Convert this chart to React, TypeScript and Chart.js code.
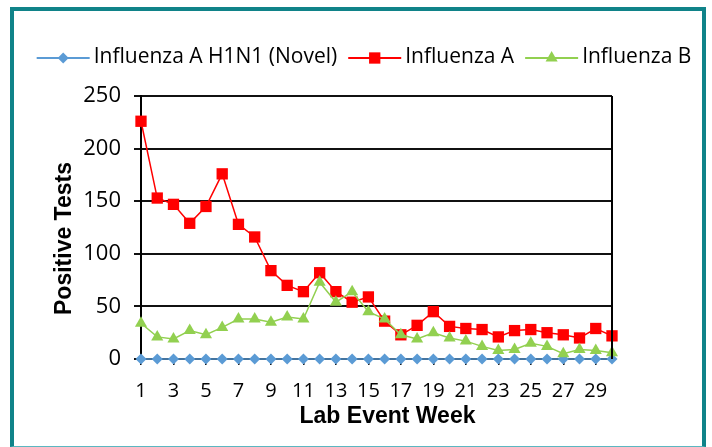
import React, { useEffect, useRef } from 'react';
import { Chart, registerables } from 'chart.js';

Chart.register(...registerables);

const weeks = ['1','2','3','4','5','6','7','8','9','10','11','12','13','14','15','16','17','18','19','20','21','22','23','24','25','26','27','28','29','30'];
const h1n1 = [0,0,0,0,0,0,0,0,0,0,0,0,0,0,0,0,0,0,0,0,0,0,0,0,0,0,0,0,0,0];
const fluA = [226,153,147,129,145,176,128,116,84,70,64,82,64,54,59,36,23,32,45,31,29,28,21,27,28,25,23,20,29,22];
const fluB = [34,21,19,27,23,30,38,38,35,40,38,73,54,64,45,38,23,19,25,20,17,12,8,9,15,12,5,9,8,6];
const seriesNames = ['Influenza A H1N1 (Novel)', 'Influenza A', 'Influenza B'];
const seriesColors = ['#5b9bd5', '#ff0000', '#92d050'];
const seriesStyles = ['rectRot', 'rect', 'triangle'];
const seriesRadius = [5.5, 8, 7];
const yMin = 0;
const yMax = 250;
const yStep = 50;
const xTitle = 'Lab Event Week';
const yTitle = 'Positive Tests';

function drawMarker(ctx: CanvasRenderingContext2D, style: string, x: number, y: number, r: number, color: string) {
  ctx.save();
  ctx.fillStyle = color;
  ctx.beginPath();
  if (style === 'rectRot') {
    ctx.moveTo(x, y - r);
    ctx.lineTo(x + r, y);
    ctx.lineTo(x, y + r);
    ctx.lineTo(x - r, y);
  } else if (style === 'rect') {
    const s = Math.SQRT1_2 * r;
    ctx.rect(x - s, y - s, 2 * s, 2 * s);
  } else {
    for (let k = 0; k < 3; k++) {
      const a = (k * 2 * Math.PI) / 3;
      const px = x + Math.sin(a) * r;
      const py = y - Math.cos(a) * r;
      if (k === 0) ctx.moveTo(px, py); else ctx.lineTo(px, py);
    }
  }
  ctx.closePath();
  ctx.fill();
  ctx.restore();
}

const decorPlugin = {
  id: 'decor',
  afterDraw(chart: any) {
    const ctx: CanvasRenderingContext2D = chart.ctx;
    const area = chart.chartArea;
    ctx.save();
    // right border of plot area
    ctx.strokeStyle = '#000';
    ctx.lineWidth = 2;
    ctx.beginPath();
    ctx.moveTo(area.right, area.top);
    ctx.lineTo(area.right, area.bottom);
    ctx.stroke();

    // axis titles
    ctx.fillStyle = '#000';
    ctx.font = 'bold 23px "Liberation Sans", Arial, sans-serif';
    ctx.textAlign = 'center';
    ctx.textBaseline = 'middle';
    ctx.fillText(xTitle, (area.left + area.right) / 2 + 11, 417);
    ctx.save();
    ctx.translate(65, (area.top + area.bottom) / 2 + 11);
    ctx.rotate(-Math.PI / 2);
    ctx.fillText(yTitle, 0, 0);
    ctx.restore();

    // legend
    ctx.font = '21px "Open Sans", sans-serif';
    ctx.textAlign = 'left';
    ctx.textBaseline = 'middle';
    const lineLen = 53;
    const gapText = 4;
    const gapItem = 11;
    const widths = seriesNames.map((n) => ctx.measureText(n).width);
    const total = widths.reduce((a, b) => a + b, 0) + 3 * (lineLen + gapText) + 2 * gapItem;
    let x = 364 - total / 2;
    const ly = 58;
    seriesNames.forEach((name, i) => {
      ctx.strokeStyle = seriesColors[i];
      ctx.lineWidth = 2;
      ctx.beginPath();
      ctx.moveTo(x, ly);
      ctx.lineTo(x + lineLen, ly);
      ctx.stroke();
      drawMarker(ctx, seriesStyles[i], x + lineLen / 2, ly, seriesRadius[i], seriesColors[i]);
      ctx.fillStyle = '#000';
      ctx.fillText(name, x + lineLen + gapText, ly - 1);
      x += lineLen + gapText + widths[i] + gapItem;
    });
    ctx.restore();
  },
};

export default function App() {
  const canvasRef = useRef<HTMLCanvasElement | null>(null);

  useEffect(() => {
    document.body.style.margin = '0';
    const canvas = canvasRef.current;
    if (!canvas) return;
    const datasets = [h1n1, fluA, fluB].map((data, i) => ({
      label: seriesNames[i],
      data,
      borderColor: seriesColors[i],
      backgroundColor: seriesColors[i],
      borderWidth: 1.5,
      pointStyle: seriesStyles[i] as any,
      pointRadius: seriesRadius[i],
      pointBorderWidth: 0,
      pointBackgroundColor: seriesColors[i],
      pointBorderColor: seriesColors[i],
      tension: 0,
      clip: false as any,
      order: 2 - i,
    }));
    const chart = new Chart(canvas, {
      type: 'line',
      data: { labels: weeks, datasets },
      options: {
        animation: false,
        responsive: false,
        devicePixelRatio: 1,
        layout: { padding: { left: 0, right: 100, top: 96, bottom: 0 } },
        plugins: { legend: { display: false }, tooltip: { enabled: false } },
        scales: {
          x: {
            type: 'category',
            offset: false,
            afterFit: (s: any) => { s.height = 88; },
            grid: {
              drawOnChartArea: false,
              drawTicks: true,
              tickLength: 6,
              lineWidth: 1.5,
              color: (c: any) => (c.index % 2 === 0 ? '#000' : 'rgba(0,0,0,0)'),
            },
            border: { display: true, color: '#000', width: 2 },
            ticks: {
              autoSkip: false,
              maxRotation: 0,
              padding: 14,
              color: '#000',
              font: { family: '"Open Sans", sans-serif', size: 20 },
              callback: (_v: any, i: number) => (i % 2 === 0 ? weeks[i] : ''),
            },
          },
          y: {
            min: yMin,
            max: yMax,
            afterFit: (s: any) => { s.width = 141; },
            grid: { color: '#111', lineWidth: 2, drawTicks: true, tickLength: 7 },
            border: { display: true, color: '#000', width: 2 },
            ticks: {
              stepSize: yStep,
              padding: 13,
              color: '#000',
              font: { family: '"Open Sans", sans-serif', size: 22 },
            },
          },
        },
      },
      plugins: [decorPlugin],
    });
    return () => chart.destroy();
  }, []);

  return (
    <div style={{ position: 'fixed', left: 0, top: 0, width: 712, height: 447, background: '#fff' }}>
      <canvas ref={canvasRef} width={712} height={447} style={{ position: 'absolute', left: 0, top: 0, width: 712, height: 447 }} />
      <div
        style={{
          position: 'absolute',
          left: 10,
          top: 7,
          width: 696,
          height: 440,
          boxSizing: 'border-box',
          borderLeft: '4px solid #108389',
          borderTop: '4px solid #108389',
          borderRight: '4px solid #108389',
          borderBottom: '1px solid #5bb7c1',
          pointerEvents: 'none',
        }}
      />
    </div>
  );
}
